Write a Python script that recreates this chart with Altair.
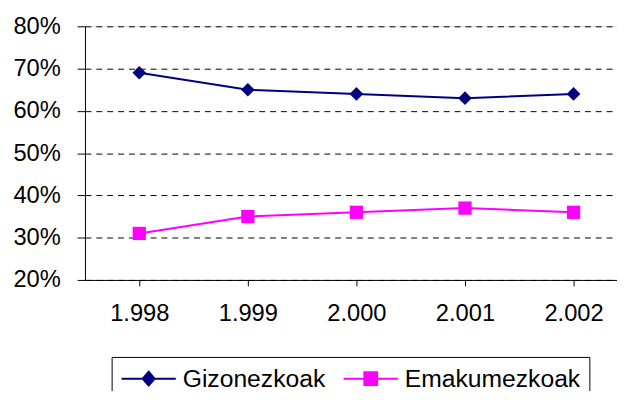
import altair as alt
import pandas as pd

years = ["1.998", "1.999", "2.000", "2.001", "2.002"]
series_names = ["Gizonezkoak", "Emakumezkoak"]
gizonezkoak = [69, 65, 64, 63, 64]
emakumezkoak = [31, 35, 36, 37, 36]
colors = ["#000080", "#FF00FF"]
y_ticks = [20, 30, 40, 50, 60, 70, 80]

rows = []
for name, vals in zip(series_names, [gizonezkoak, emakumezkoak]):
    for yr, v in zip(years, vals):
        rows.append({"year": yr, "value": v, "series": name})
df = pd.DataFrame(rows)

FONT = "Liberation Sans"

x_enc = alt.X(
    "year:O",
    sort=years,
    scale=alt.Scale(range=[0, 550], paddingInner=0, paddingOuter=0),
    axis=alt.Axis(
        title=None, labelAngle=0, bandPosition=0, tickSize=6, labelPadding=16,
        labelFont=FONT, labelFontSize=24, labelColor="black",
        domainColor="black", tickColor="black", grid=False,
    ),
)
y_enc = alt.Y(
    "value:Q",
    scale=alt.Scale(domain=[20, 80], nice=False, zero=False),
    axis=alt.Axis(
        title=None, values=y_ticks, labelExpr="datum.value + '%'",
        tickSize=8, labelPadding=17, labelFont=FONT, labelFontSize=24,
        labelColor="black", domainColor="black", tickColor="black",
        gridColor="black", gridDash=[6, 5], gridOpacity=1,
    ),
)

legend_paths = [
    "M-1,0H1M0,-0.255L0.22,0L0,0.255L-0.22,0Z",
    "M-1,0H1M-0.236,-0.236H0.236V0.236H-0.236Z",
]
leg = alt.Legend(
    title=None, orient="none", legendX=27, legendY=335, direction="horizontal",
    strokeColor="black", padding=9, labelFont=FONT, labelFontSize=25,
    labelColor="black", labelOffset=6, columnPadding=17, symbolSize=3025,
    symbolStrokeWidth=2, symbolOpacity=1, clipHeight=26, labelLimit=400,
)
stroke_scale = alt.Scale(domain=series_names, range=colors)
fill_scale = alt.Scale(domain=series_names, range=colors)
shape_scale = alt.Scale(domain=series_names, range=legend_paths)

lines = alt.Chart(df).mark_line(strokeWidth=2).encode(
    x=x_enc, y=y_enc,
    stroke=alt.Stroke("series:N", scale=stroke_scale, legend=leg),
)

men_pts = alt.Chart(df).transform_filter(
    alt.datum.series == series_names[0]
).mark_point(filled=True, shape="diamond", size=190, opacity=1, color=colors[0]).encode(
    x=x_enc, y=y_enc,
)
women_pts = alt.Chart(df).transform_filter(
    alt.datum.series == series_names[1]
).mark_point(filled=True, shape="square", size=180, opacity=1, color=colors[1]).encode(
    x=x_enc, y=y_enc,
)

legend_layer = alt.Chart(df).transform_filter("false").mark_point(
    filled=True, size=3025, strokeWidth=2, opacity=1
).encode(
    x=x_enc, y=y_enc,
    fill=alt.Fill("series:N", scale=fill_scale, legend=leg),
    stroke=alt.Stroke("series:N", scale=stroke_scale, legend=leg),
    shape=alt.Shape("series:N", scale=shape_scale, legend=leg),
)

chart = alt.layer(lines, men_pts, women_pts, legend_layer).properties(
    width=539, height=257,
    autosize=alt.AutoSizeParams(type="none"),
    padding={"left": 78, "top": 16, "right": 0, "bottom": 110},
).configure_view(strokeWidth=0).configure(background="white")

chart.save("out.html", embed_options={"renderer": "svg", "actions": False})
